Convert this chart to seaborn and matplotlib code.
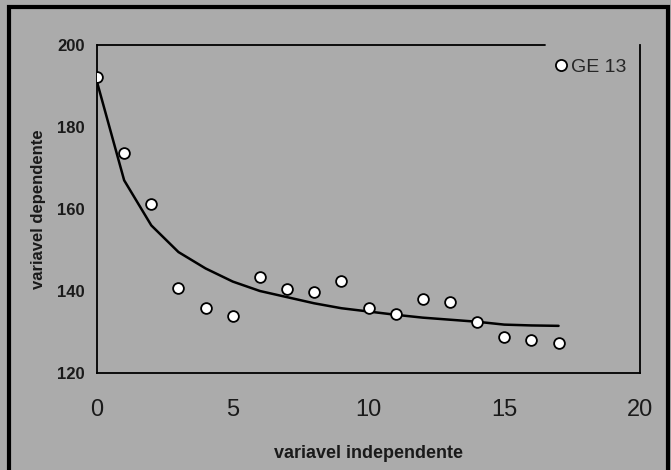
import matplotlib
matplotlib.use("Agg")
import matplotlib.pyplot as plt
import seaborn as sns
import pandas as pd
from matplotlib.patches import Rectangle
from matplotlib.lines import Line2D

# observed points (GE 13)
x_obs = [0, 1, 2, 3, 4, 5, 6, 7, 8, 9, 10, 11, 12, 13, 14, 15, 16, 17]
y_obs = [192.1, 173.6, 161.3, 140.8, 135.8, 133.9, 143.4, 140.6, 139.8, 142.5,
         135.8, 134.3, 138.0, 137.4, 132.4, 128.7, 128.1, 127.2]
# fitted curve
x_fit = [0, 1, 2, 3, 4, 5, 6, 7, 8, 9, 10, 11, 12, 13, 14, 15, 16, 17]
y_fit = [191.0, 167.0, 156.0, 149.5, 145.5, 142.3, 140.0, 138.5, 137.0, 135.8,
         135.0, 134.2, 133.5, 133.0, 132.5, 131.8, 131.6, 131.5]
series_label = "GE 13"
x_ticks = [0, 5, 10, 15, 20]
y_ticks = [120, 140, 160, 180, 200]

df_obs = pd.DataFrame({"x": x_obs, "y": y_obs})
df_fit = pd.DataFrame({"x": x_fit, "y": y_fit})

sns.set_theme(style="white")
plt.rcParams["font.family"] = ["Liberation Sans", "DejaVu Sans"]

bg = "#ababab"
fig = plt.figure(figsize=(6.71, 4.70), dpi=100, facecolor=bg)
ax = fig.add_axes([97 / 671, 1 - 373 / 470, (640 - 97) / 671, (373 - 45) / 470])
ax.set_facecolor(bg)

sns.lineplot(data=df_fit, x="x", y="y", ax=ax, color="black", linewidth=1.8)
sns.scatterplot(data=df_obs, x="x", y="y", ax=ax, marker="o", s=60,
                facecolor="white", edgecolor="black", linewidth=1.3, zorder=5)

ax.set_xlim(0, 20)
ax.set_ylim(120, 200)
ax.set_xticks(x_ticks)
ax.set_yticks(y_ticks)
ax.set_xticklabels([str(t) for t in x_ticks], fontsize=17)
ax.set_yticklabels([str(t) for t in y_ticks], fontsize=12, fontweight="bold")
ax.tick_params(axis="x", direction="inout", length=10, width=1.2, pad=14, colors="black")
ax.tick_params(axis="y", direction="out", length=5, width=1.2, pad=4, colors="black")
ax.tick_params(axis="both", labelcolor="#1a1a1a")

for s in ["left", "bottom", "right"]:
    ax.spines[s].set_visible(True)
    ax.spines[s].set_color("black")
    ax.spines[s].set_linewidth(1.3)
ax.spines["top"].set_visible(False)
ax.plot([0, 16.5], [200, 200], color="black", linewidth=1.3, clip_on=False)

ax.set_xlabel("variavel independente", fontsize=13, fontweight="bold", labelpad=17, color="#1a1a1a")
ax.set_ylabel("variavel dependente", fontsize=12, fontweight="bold", labelpad=8, color="#1a1a1a")

handle = Line2D([], [], marker="o", linestyle="none", markersize=8,
                markerfacecolor="white", markeredgecolor="black", markeredgewidth=1.3)
ax.legend([handle], [series_label], loc="upper right", bbox_to_anchor=(1.0, 1.0),
          frameon=False, fontsize=14, handletextpad=0.0, handlelength=1.0,
          borderaxespad=0.3)

fig.patches.append(Rectangle((9 / 671, -0.05), 659 / 671, 1.05 - 7 / 470, transform=fig.transFigure,
                             fill=False, edgecolor="black", linewidth=3))

fig.savefig("out.png", dpi=100, facecolor=bg)
